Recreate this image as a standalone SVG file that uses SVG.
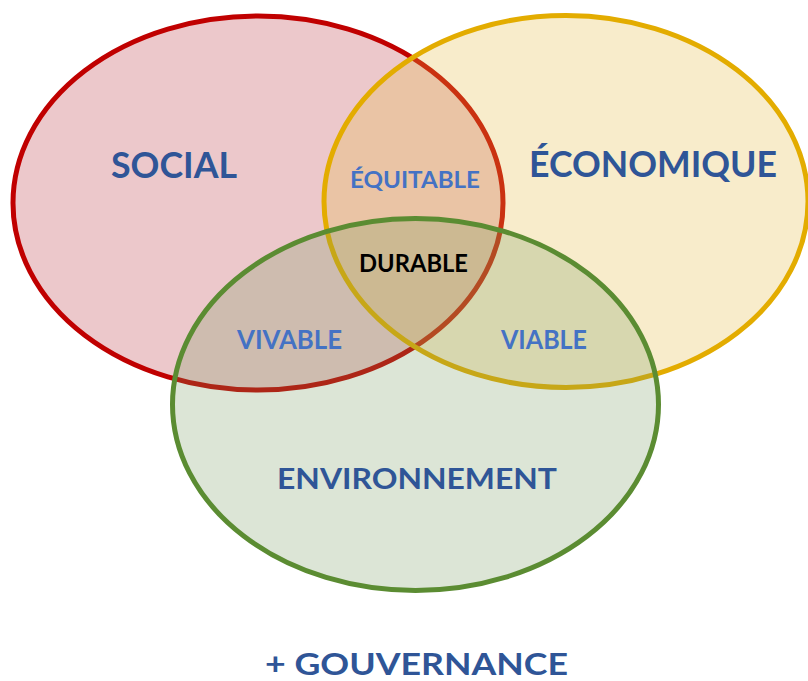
<svg xmlns="http://www.w3.org/2000/svg" width="808" height="681" viewBox="0 0 808 681">
<style>
.t{font-family:Lato,"Liberation Sans",sans-serif;font-weight:bold}
.big{fill:#2F5597}
.mid{fill:#4472C4}
</style>
<rect width="808" height="681" fill="#ffffff"/>
<g id="social">
<ellipse cx="258" cy="203" rx="245" ry="187" fill="#ECC8CB" stroke="#C00000" stroke-width="5"/>
</g>
<g id="economique">
<ellipse cx="566" cy="201.5" rx="242" ry="186" fill="#E5B93F" fill-opacity="0.27" stroke="#E3AC00" stroke-width="5"/>
</g>
<g id="environnement">
<ellipse cx="415.5" cy="404.5" rx="243" ry="186" fill="#74985C" fill-opacity="0.25" stroke="#5B8C32" stroke-width="5"/>
</g>
<g id="labels">
<text class="t big" x="111" y="178" font-size="36" textLength="126" lengthAdjust="spacingAndGlyphs">SOCIAL</text>
<text class="t big" x="529" y="177" font-size="36" textLength="248" lengthAdjust="spacingAndGlyphs">ÉCONOMIQUE</text>
<text class="t big" x="277" y="489" font-size="29" textLength="280" lengthAdjust="spacingAndGlyphs">ENVIRONNEMENT</text>
<text class="t mid" x="350" y="188" font-size="23" textLength="130" lengthAdjust="spacingAndGlyphs">ÉQUITABLE</text>
<text class="t" x="359" y="272" font-size="24" fill="#000000" textLength="109" lengthAdjust="spacingAndGlyphs">DURABLE</text>
<text class="t mid" x="237" y="349" font-size="26" textLength="105" lengthAdjust="spacingAndGlyphs">VIVABLE</text>
<text class="t mid" x="501" y="349" font-size="26" textLength="86" lengthAdjust="spacingAndGlyphs">VIABLE</text>
<text class="t big" x="265" y="675" font-size="30" textLength="303" lengthAdjust="spacingAndGlyphs">+ GOUVERNANCE</text>
</g>
</svg>
